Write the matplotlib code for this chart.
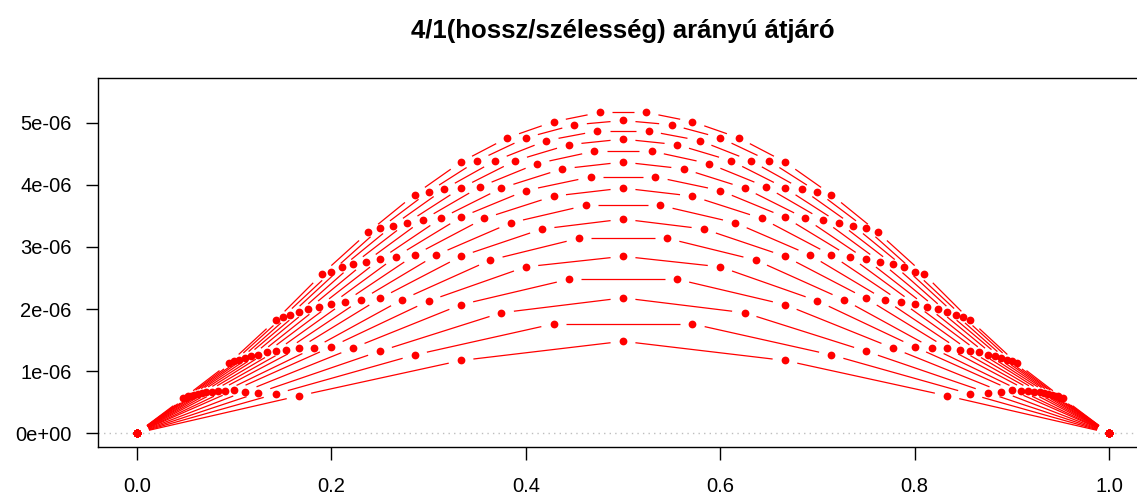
import numpy as np
import matplotlib
matplotlib.use('Agg')
import matplotlib.pyplot as plt
from matplotlib.collections import LineCollection

# velocity profiles across the passage, in units of 1e-6,
# one list per number of cells n (n + 1 grid points, walls included)
p06 = [0, 0.60, 1.17, 1.48, 1.17, 0.60, 0]
p07 = [0, 0.63, 1.26, 1.76, 1.76, 1.26, 0.63, 0]
p08 = [0, 0.65, 1.32, 1.94, 2.18, 1.94, 1.32, 0.65, 0]
p09 = [0, 0.67, 1.37, 2.07, 2.48, 2.48, 2.07, 1.37, 0.67, 0]
p10 = [0, 0.69, 1.39, 2.13, 2.68, 2.85, 2.68, 2.13, 1.39, 0.69, 0]
p11 = [0, 0.68, 1.37, 2.15, 2.79, 3.14, 3.14, 2.79, 2.15, 1.37, 0.68, 0]
p12 = [0, 0.68, 1.37, 2.17, 2.85, 3.29, 3.45, 3.29, 2.85, 2.17, 1.37, 0.68, 0]
p13 = [0, 0.67, 1.345, 2.15, 2.87, 3.39, 3.67, 3.67, 3.39, 2.87, 2.15, 1.345, 0.67, 0]
p14 = [0, 0.66, 1.32, 2.12, 2.87, 3.46, 3.82, 3.95, 3.82, 3.46, 2.87, 2.12, 1.32, 0.66, 0]
p15 = [0, 0.645, 1.30, 2.08, 2.845, 3.48, 3.91, 4.13, 4.13, 3.91, 3.48, 2.845, 2.08, 1.30,
       0.645, 0]
p16 = [0, 0.635, 1.265, 2.04, 2.80, 3.46, 3.95, 4.26, 4.37, 4.26, 3.95, 3.46, 2.80, 2.04,
       1.265, 0.635, 0]
p17 = [0, 0.62, 1.24, 2.00, 2.76, 3.435, 3.97, 4.345, 4.545, 4.545, 4.345, 3.97, 3.435, 2.76,
       2.00, 1.24, 0.62, 0]
p18 = [0, 0.60, 1.215, 1.95, 2.72, 3.39, 3.95, 4.39, 4.65, 4.74, 4.65, 4.39, 3.95, 3.39,
       2.72, 1.95, 1.215, 0.60, 0]
p19 = [0, 0.59, 1.18, 1.91, 2.67, 3.345, 3.93, 4.39, 4.715, 4.87, 4.87, 4.715, 4.39, 3.93,
       3.345, 2.67, 1.91, 1.18, 0.59, 0]
p20 = [0, 0.57, 1.155, 1.87, 2.60, 3.30, 3.89, 4.39, 4.76, 4.97, 5.04, 4.97, 4.76, 4.39,
       3.89, 3.30, 2.60, 1.87, 1.155, 0.57, 0]
p21 = [0, 0.56, 1.13, 1.82, 2.565, 3.24, 3.845, 4.37, 4.76, 5.02, 5.17, 5.17, 5.02, 4.76,
       4.37, 3.845, 3.24, 2.565, 1.82, 1.13, 0.56, 0]

profiles = [p06, p07, p08, p09, p10, p11, p12, p13, p14, p15, p16, p17, p18, p19, p20, p21]
unit = 1e-6

x_ticks = [0.0, 0.2, 0.4, 0.6, 0.8, 1.0]
x_tick_labels = ['0.0', '0.2', '0.4', '0.6', '0.8', '1.0']
y_ticks = [0, 1e-6, 2e-6, 3e-6, 4e-6, 5e-6]
y_tick_labels = ['0e+00', '1e-06', '2e-06', '3e-06', '4e-06', '5e-06']

title = '4/1(hossz/szélesség) arányú átjáró'

plt.rcParams['font.family'] = ['Liberation Sans', 'DejaVu Sans']

fig = plt.figure(figsize=(11.37, 5.0), dpi=100)
# plot box runs past the right edge of the image
ax = fig.add_axes([98 / 1137, 53.3 / 500, 1050 / 1137, 368.4 / 500])
ax.set_xlim(-0.04, 1.04)
ax.set_ylim(-0.22e-6, 5.72e-6)

ax.axhline(0, color='#BEBEBE', lw=1, ls=(0, (1, 3)), zorder=1)


def gapped_segments(x, y, gap=12.5):
    # shorten every segment at both ends, like R's type="b"
    pts = ax.transData.transform(np.column_stack([x, y]))
    inv = ax.transData.inverted()
    segs = []
    for a, b in zip(pts[:-1], pts[1:]):
        d = b - a
        length = np.hypot(d[0], d[1])
        if length <= 2 * gap:
            continue
        u = d / length
        segs.append(inv.transform(np.array([a + u * gap, b - u * gap])))
    return segs


for prof in profiles:
    n = len(prof) - 1
    x = np.arange(n + 1) / n
    y = np.array(prof) * unit
    lc = LineCollection(gapped_segments(x, y), colors='red', linewidths=0.9, zorder=2)
    ax.add_collection(lc)
    ax.plot(x, y, 'o', color='red', ms=5.6, mew=0, zorder=3)

ax.set_xticks(x_ticks)
ax.set_xticklabels(x_tick_labels)
ax.set_yticks(y_ticks)
ax.set_yticklabels(y_tick_labels)
ax.tick_params(direction='out', length=9, width=1, labelsize=14.5, colors='black')
ax.tick_params(axis='x', pad=13)
ax.tick_params(axis='y', pad=10)
for s in ax.spines.values():
    s.set_linewidth(1)
    s.set_color('black')

fig.text(623 / 1137, 1 - 31 / 500, title, ha='center', va='center',
         fontsize=18.5, fontweight='bold')

fig.savefig('out.png', dpi=100)
